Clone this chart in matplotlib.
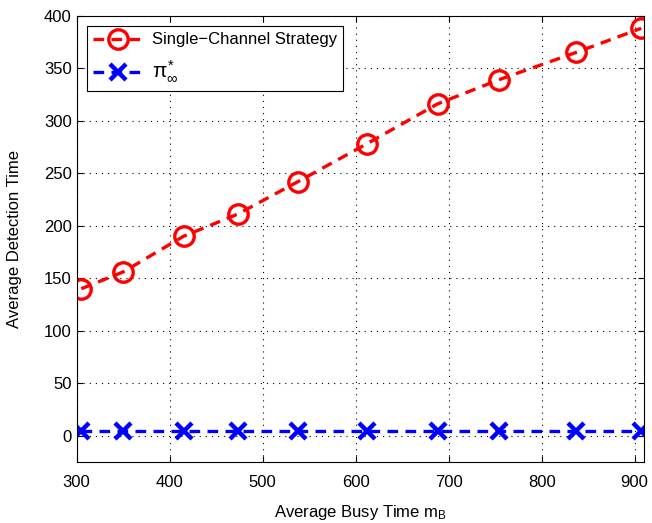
import numpy as np
import matplotlib.pyplot as plt

# data
busy_time = [305, 350, 415, 473, 538, 612, 688, 754, 837, 907]
single_channel = [140, 156, 190, 211, 242, 278, 316, 339, 365, 388]
pi_inf = [5, 5, 5, 5, 5, 5, 5, 5, 5, 5]

xticks = [300, 400, 500, 600, 700, 800, 900]
yticks = [0, 50, 100, 150, 200, 250, 300, 350, 400]

plt.rcParams['font.family'] = ['Liberation Sans', 'DejaVu Sans']
plt.rcParams['mathtext.fontset'] = 'custom'
plt.rcParams['mathtext.rm'] = 'Liberation Sans'
plt.rcParams['mathtext.it'] = 'Liberation Sans'

fig = plt.figure(figsize=(6.52, 5.23), dpi=100)
ax = fig.add_axes([0.1176, 0.1166, 0.8701, 0.8534])

ax.plot(busy_time, single_channel, color='red', linestyle=(0, (3.2, 2.2)), linewidth=2.4,
        marker='o', markersize=14, markerfacecolor='none', markeredgewidth=2.4,
        label='Single\u2212Channel Strategy')
ax.plot(busy_time, pi_inf, color='blue', linestyle=(0, (3.2, 2.2)), linewidth=2.4,
        marker='x', markersize=12, markeredgewidth=3.2,
        label=r'$\pi_{\infty}^{*}$')

ax.set_xlim(300, 910)
ax.set_ylim(-25, 400)
ax.set_xticks(xticks)
ax.set_yticks(yticks)
ax.tick_params(direction='in', top=True, right=True, labelsize=12, length=4)
ax.tick_params(axis='x', pad=9)
ax.grid(True, linestyle=(0, (1, 4.5)), color='black', linewidth=0.8)

ax.set_xlabel('Average Busy Time m$_\\mathrm{B}$', fontsize=12, labelpad=10)
ax.set_ylabel('Average Detection Time', fontsize=12, labelpad=16)

leg = ax.legend(loc='upper left', fontsize=12, handlelength=3.0, fancybox=False,
                edgecolor='black', framealpha=1, borderaxespad=0.6, labelspacing=0.7,
                handletextpad=0.5)
leg.get_frame().set_linewidth(0.8)
leg.get_texts()[1].set_fontsize(15)

plt.savefig('out.png', dpi=100)
plt.close()
